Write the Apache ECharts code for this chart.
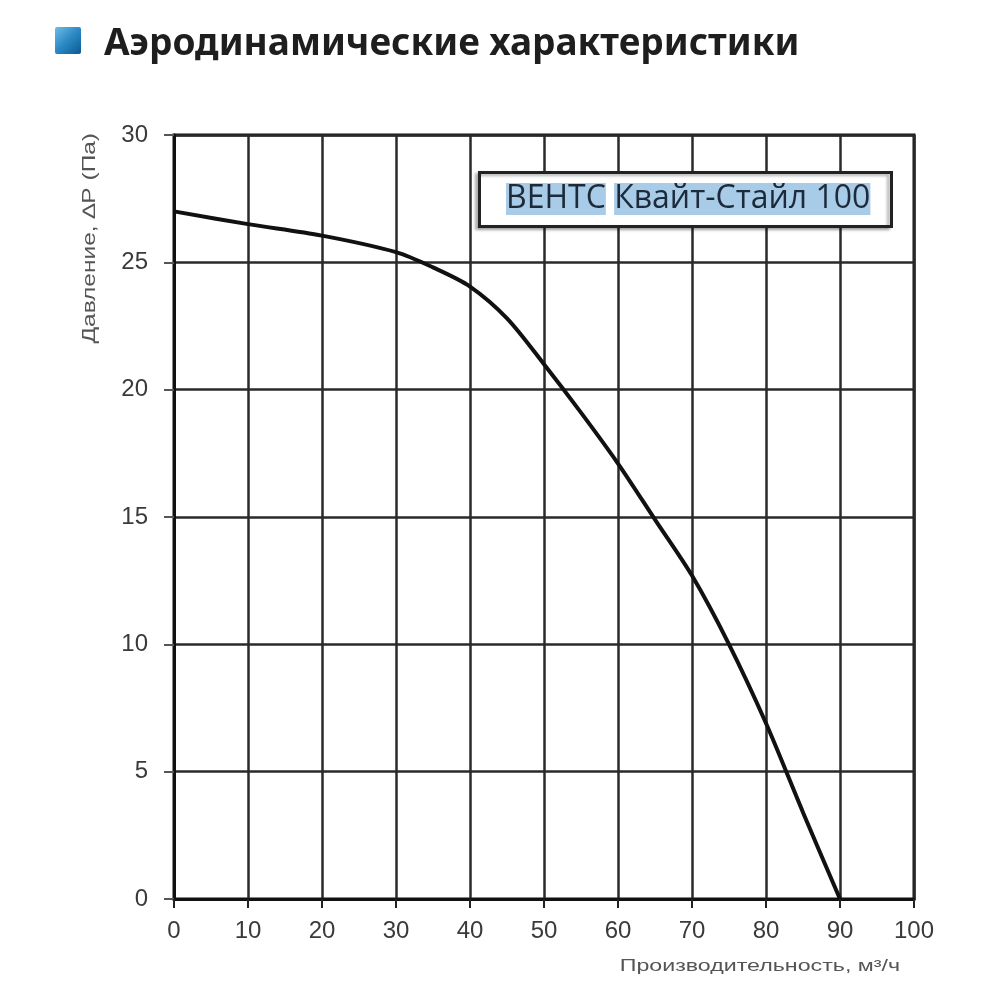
<!DOCTYPE html>
<html><head><meta charset="utf-8">
<script src="https://cdn.jsdelivr.net/npm/echarts@6/dist/echarts.min.js"></script>
<style>html,body{margin:0;padding:0;background:#fff}#c{width:1000px;height:1000px}</style>
</head><body><div id="c"></div>
<script>
const titleText = 'Аэродинамические характеристики';
const seriesName = 'ВЕНТС Квайт-Стайл 100';
const xAxisName = 'Производительность, м³/ч';
const yAxisName = 'Давление, ∆P (Па)';
const flow = [0, 10, 20, 30, 35, 40, 45, 50, 55, 60, 65, 70, 75, 80, 85, 90];
const pressure = [27, 26.5, 26.05, 25.4, 24.8, 24.05, 22.8, 21, 19.1, 17.1, 14.9, 12.7, 10, 6.9, 3.4, 0];
const xTicks = [0, 10, 20, 30, 40, 50, 60, 70, 80, 90, 100];
const yTicks = [0, 5, 10, 15, 20, 25, 30];

const chart = echarts.init(document.getElementById('c'));
chart.setOption({
  backgroundColor: '#fff',
  animation: false,
  grid: { left: 174, right: 86, top: 135, bottom: 101, show: true, borderColor: '#111', borderWidth: 3, backgroundColor: 'transparent' },
  xAxis: {
    type: 'value', min: xTicks[0], max: xTicks[xTicks.length - 1], interval: 10,
    axisLine: { show: true, lineStyle: { color: '#111', width: 3 } },
    axisTick: { show: true, length: 9, lineStyle: { color: '#222', width: 2 } },
    axisLabel: { color: '#3a3a3a', fontSize: 24, fontFamily: 'Liberation Sans', margin: 20 },
    splitLine: { show: true, lineStyle: { color: '#2a2a2a', width: 2.5 } }
  },
  yAxis: {
    type: 'value', min: yTicks[0], max: yTicks[yTicks.length - 1], interval: 5,
    axisLine: { show: true, lineStyle: { color: '#111', width: 3 } },
    axisTick: { show: true, length: 10, lineStyle: { color: '#555', width: 2 } },
    axisLabel: { color: '#3a3a3a', fontSize: 24, fontFamily: 'Liberation Sans', margin: 26 },
    splitLine: { show: true, lineStyle: { color: '#2a2a2a', width: 2.5 } }
  },
  series: [{
    type: 'line', name: seriesName, smooth: 0.3, symbol: 'none',
    lineStyle: { color: '#111', width: 4 },
    data: flow.map((x, i) => [x, pressure[i]])
  }],
  graphic: [
    { type: 'rect', left: 55, top: 27, shape: { width: 26, height: 27, r: 2 },
      style: { fill: new echarts.graphic.LinearGradient(0, 0, 1, 1, [{ offset: 0, color: '#6cbde6' }, { offset: 0.5, color: '#2b88c4' }, { offset: 1, color: '#0a5a8f' }]) } },
    { type: 'text', left: 104, top: 26, style: { text: titleText, font: 'bold 37px "Noto Sans"', fill: '#1e1e1e' } },
    { type: 'rect', left: 478, top: 171, z: 100, shape: { width: 412, height: 54 },
      style: { fill: '#fff', stroke: '#222', lineWidth: 3, shadowColor: 'rgba(0,0,0,0.3)', shadowOffsetX: -3, shadowOffsetY: 2, shadowBlur: 3 } },
    { type: 'text', z: 101, x: 506, y: 199,
      style: { text: '{h|ВЕНТС} {h|Квайт-Стайл 100}', verticalAlign: 'middle',
        rich: { h: { backgroundColor: '#a8cbe8', color: '#1c2a3a', fontSize: 32, fontFamily: 'Open Sans', lineHeight: 30 } },
        font: '32px "Open Sans"', fill: '#1c2a3a' } },
    { type: 'text', x: 90, y: 133, rotation: Math.PI / 2, scaleX: 1.36, style: { text: yAxisName, font: '18px "Liberation Sans"', fill: '#555', align: 'right', verticalAlign: 'middle' } },
    { type: 'text', x: 900, y: 967, scaleX: 1.45, style: { text: xAxisName, font: '16px "Liberation Sans"', fill: '#555', align: 'right', verticalAlign: 'middle' } }
  ]
});
</script></body></html>
